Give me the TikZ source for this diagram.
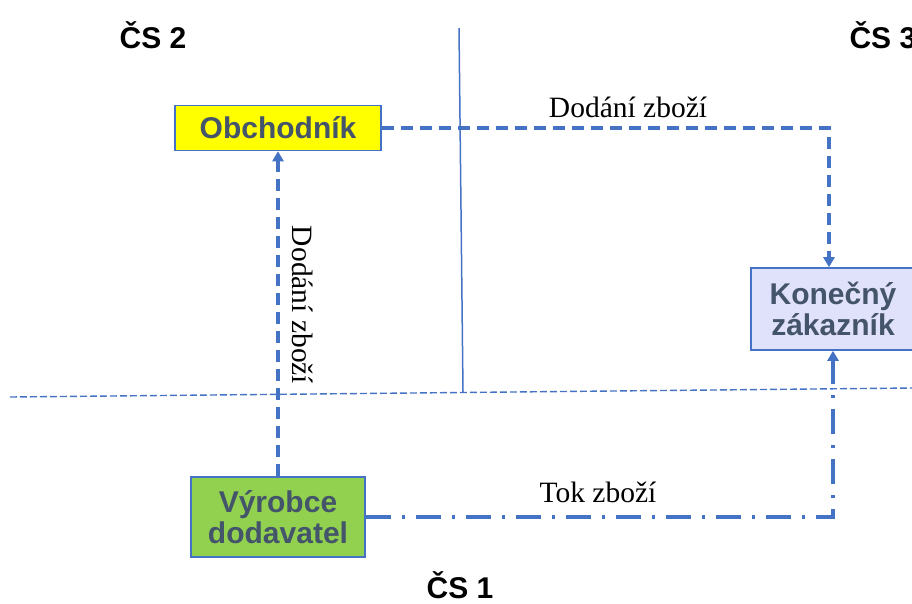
\documentclass[tikz,border=0pt]{standalone}
\usepackage{fontspec}
\setmainfont{Liberation Serif}
\setsansfont{Liberation Sans}
\usetikzlibrary{arrows.meta}
\definecolor{lblue}{HTML}{4472C4}
\definecolor{txtc}{HTML}{44546A}
\definecolor{yel}{HTML}{FFFF00}
\definecolor{grn}{HTML}{92D050}
\definecolor{lav}{RGB}{224,225,250}
\tikzset{
  box/.style={draw=lblue, line width=1.6pt, text=txtc, font=\sffamily\bfseries\fontsize{30}{31}\selectfont, align=center, inner sep=0pt},
  flow/.style={draw=lblue, line width=3.2pt, dash pattern=on 12pt off 7pt},
  flowdd/.style={draw=lblue, line width=3.2pt, dash pattern=on 25pt off 11pt on 3pt off 11pt},
  thin/.style={draw=lblue, line width=1.5pt},
  tip/.style={-{Triangle[width=11pt,length=10pt]}},
  lbl/.style={font=\fontsize{29.5}{31}\selectfont, text=black},
  cs/.style={font=\sffamily\bfseries\fontsize{30}{31}\selectfont, text=black}
}
\begin{document}
\begin{tikzpicture}[x=1pt,y=-1pt]
\useasboundingbox (0,0) rectangle (912,603);
\node[box, fill=yel, minimum width=206pt, minimum height=45pt] (obch) at (278,128) {Obchodník};
\node[box, fill=grn, minimum width=174pt, minimum height=80pt] (vyr) at (278,517) {Výrobce\\dodavatel};
\node[box, fill=lav, minimum width=164pt, minimum height=82pt] (kon) at (833,309) {Konečný\\zákazník};
\node[cs, anchor=base] (cs2) at (153,48) {ČS 2};
\node[cs, anchor=base west] (cs3) at (846,48) {ČS 3};
\node[cs, anchor=base] (cs1) at (460,598) {ČS 1};
\coordinate (vt) at (459,28);
\coordinate (vb) at (463,392);
\coordinate (hl) at (10,397);
\coordinate (hr) at (912,388);
\draw[thin] (vt) -- (vb);
\draw[draw=lblue, line width=1.4pt, dash pattern=on 7pt off 3pt] (hl) -- (hr);
\draw[flow, tip] (vyr.north) -- (obch.south);
\draw[flow, tip] (obch.east) -| ([xshift=-4pt]kon.north);
\draw[flowdd, tip] (vyr.east) -| (kon.south);
\node[lbl, anchor=base] (l1) at (628,117) {Dodání zboží};
\node[lbl, rotate=-90] (l2) at (303,305) {Dodání zboží};
\node[lbl] (l3) at (598,492) {Tok zboží};
\end{tikzpicture}
\end{document}
